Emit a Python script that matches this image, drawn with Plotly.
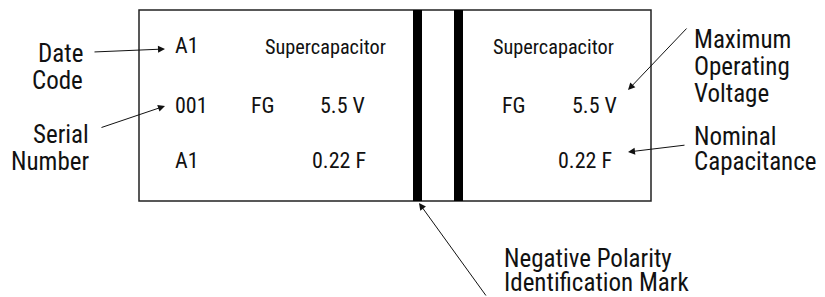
import plotly.graph_objects as go

FONT = "Roboto Condensed, Roboto, sans-serif"

# Body text printed on the part
body_texts = ["A1", "Supercapacitor", "001", "FG", "5.5 V", "A1", "0.22 F",
              "Supercapacitor", "FG", "5.5 V", "0.22 F"]
body_x = [174, 325, 174, 263, 342, 174, 339, 553.5, 514, 594, 585]
body_y = [45, 46.5, 105, 105, 105, 160, 160, 46.5, 105, 105, 160]
body_anchor = ["left", "center", "left", "center", "center", "left", "center",
               "center", "center", "center", "center"]
body_size = [22, 20.3, 22, 22, 22, 22, 22, 20.3, 22, 22, 22]

# Callout label lines
label_lines = ["Date", "Code", "Serial", "Number",
               "Maximum", "Operating", "Voltage", "Nominal", "Capacitance",
               "Negative Polarity", "Identification Mark"]
label_x = [84, 84, 90, 90, 693, 693, 693, 693, 693, 503, 503]
label_y = [53.5, 80, 134.5, 161, 39, 66, 93, 136, 161, 258, 282.5]
label_anchor = ["right"] * 4 + ["left"] * 7

# Arrows: tail (ax, ay) -> head (x, y)
arrow_tail_x = [93, 100, 688, 686, 487]
arrow_tail_y = [52, 128, 27, 145, 297]
arrow_head_x = [165, 165, 628, 628, 419]
arrow_head_y = [49, 106, 90, 152, 203]

fig = go.Figure()
fig.add_trace(go.Scatter(x=[0, 825], y=[0, 297], mode="markers",
                         marker=dict(opacity=0), hoverinfo="skip", showlegend=False))

shapes = [
    dict(type="rect", x0=139, x1=651, y0=10, y1=201,
         line=dict(color="#222", width=1.5), fillcolor="white", layer="below"),
    dict(type="rect", x0=413, x1=422, y0=10, y1=201,
         line=dict(width=0), fillcolor="black"),
    dict(type="rect", x0=454, x1=463, y0=10, y1=201,
         line=dict(width=0), fillcolor="black"),
]

ann = []
for t, x, y, a, s in zip(body_texts, body_x, body_y, body_anchor, body_size):
    ann.append(dict(text=t, x=x, y=y, xref="x", yref="y", showarrow=False,
                    xanchor=a, yanchor="middle", borderpad=0,
                    font=dict(family=FONT, size=s, color="#111")))
for t, x, y, a in zip(label_lines, label_x, label_y, label_anchor):
    ann.append(dict(text=t, x=x, y=y, xref="x", yref="y", showarrow=False,
                    xanchor=a, yanchor="middle", borderpad=0,
                    font=dict(family=FONT, size=25, color="#111")))
for tx, ty, hx, hy in zip(arrow_tail_x, arrow_tail_y, arrow_head_x, arrow_head_y):
    ann.append(dict(text="", x=hx, y=hy, ax=tx, ay=ty, xref="x", yref="y",
                    axref="x", ayref="y", showarrow=True, arrowhead=2,
                    arrowsize=1.4, arrowwidth=1, arrowcolor="#111", standoff=0))

fig.update_layout(
    width=825, height=297, margin=dict(l=0, r=0, t=0, b=0),
    paper_bgcolor="white", plot_bgcolor="white",
    xaxis=dict(range=[0, 825], visible=False, fixedrange=True),
    yaxis=dict(range=[297, 0], visible=False, fixedrange=True),
    shapes=shapes, annotations=ann, showlegend=False,
)
fig.write_html("out.html", config={"displayModeBar": False},
               post_script="document.body.style.margin='0px';")
